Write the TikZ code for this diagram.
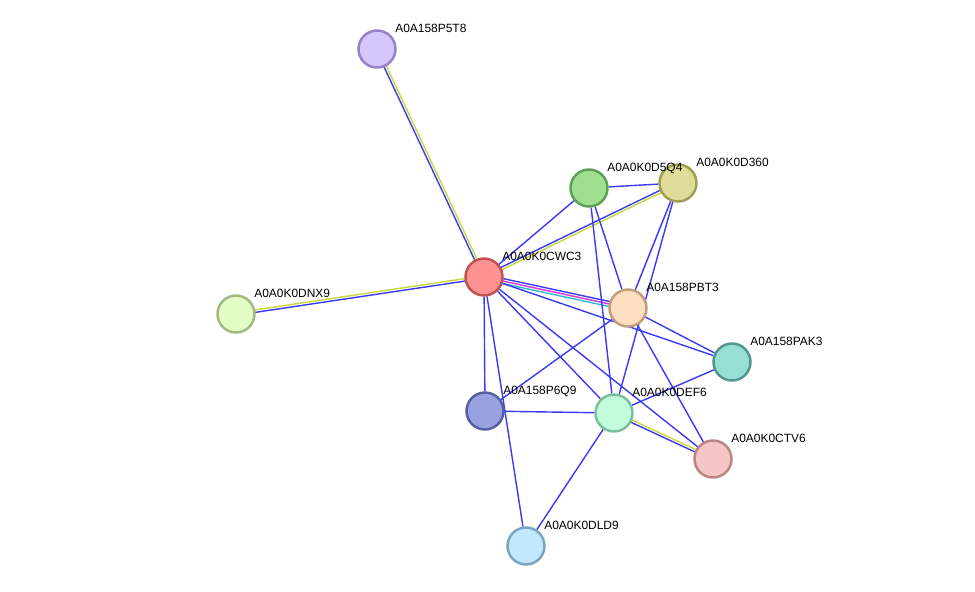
\documentclass[tikz,border=0pt]{standalone}
\usepackage{fontspec}
\setmainfont{Liberation Sans}
\usetikzlibrary{calc,backgrounds}

\definecolor{ppiblue}{RGB}{58,58,245}
\definecolor{ppiyellow}{RGB}{200,216,56}
\definecolor{ppimagenta}{RGB}{214,52,214}
\definecolor{ppicyan}{RGB}{46,188,210}

\definecolor{p5t8line}{RGB}{150,130,200}\definecolor{p5t8fill}{RGB}{214,198,252}
\definecolor{d5q4line}{RGB}{92,160,82}\definecolor{d5q4fill}{RGB}{160,222,146}
\definecolor{d360line}{RGB}{160,158,82}\definecolor{d360fill}{RGB}{224,220,154}
\definecolor{cwc3line}{RGB}{192,82,82}\definecolor{cwc3fill}{RGB}{252,146,146}
\definecolor{dnx9line}{RGB}{162,186,128}\definecolor{dnx9fill}{RGB}{226,254,196}
\definecolor{pbt3line}{RGB}{190,158,124}\definecolor{pbt3fill}{RGB}{254,222,192}
\definecolor{pak3line}{RGB}{82,150,142}\definecolor{pak3fill}{RGB}{152,224,214}
\definecolor{p6q9line}{RGB}{86,96,160}\definecolor{p6q9fill}{RGB}{152,162,224}
\definecolor{def6line}{RGB}{124,190,156}\definecolor{def6fill}{RGB}{194,252,218}
\definecolor{ctv6line}{RGB}{190,132,132}\definecolor{ctv6fill}{RGB}{244,198,198}
\definecolor{dld9line}{RGB}{124,164,190}\definecolor{dld9fill}{RGB}{194,232,254}

\tikzset{
  prot/.style={circle, draw=#1line, fill=#1fill, line width=1.4pt,
    minimum size=0.74cm, inner sep=0pt},
  lbl/.style={font=\fontsize{6.8}{8}\selectfont, inner sep=0pt,
    anchor=base west, label distance=0.09cm},
  ppi/.style={line width=0.8pt, draw=#1},
  ppi/.default=ppiblue
}

% edge drawn parallel to the centre line, shifted by #1
\newcommand{\ppilink}[4][0pt]{%
  \draw[ppi=#4] ($(#2)!#1!90:(#3)$) -- ($(#3)!#1!-90:(#2)$);}

\begin{document}
\begin{tikzpicture}[x=0.02cm, y=-0.02cm]
    \useasboundingbox (0,0) rectangle (975,592);

    \node (p5t8) at (377,49)  [prot=p5t8, label={[lbl]42:A0A158P5T8}] {};
    \node (d360) at (678,183) [prot=d360, label={[lbl]42:A0A0K0D360}] {};
    \node (d5q4) at (589,188) [prot=d5q4, label={[lbl]42:A0A0K0D5Q4}] {};
    \node (cwc3) at (484,277) [prot=cwc3, label={[lbl]42:A0A0K0CWC3}] {};
    \node (dnx9) at (236,314) [prot=dnx9, label={[lbl]42:A0A0K0DNX9}] {};
    \node (pbt3) at (628,308) [prot=pbt3, label={[lbl]42:A0A158PBT3}] {};
    \node (pak3) at (732,362) [prot=pak3, label={[lbl]42:A0A158PAK3}] {};
    \node (p6q9) at (485,411) [prot=p6q9, label={[lbl]42:A0A158P6Q9}] {};
    \node (def6) at (614,413) [prot=def6, label={[lbl]42:A0A0K0DEF6}] {};
    \node (ctv6) at (713,459) [prot=ctv6, label={[lbl]42:A0A0K0CTV6}] {};
    \node (dld9) at (526,546) [prot=dld9, label={[lbl]42:A0A0K0DLD9}] {};

    \begin{pgfonlayer}{background}
        % two or three lines where there are more kinds of evidence
        \ppilink[0.7pt]{cwc3}{p5t8}{ppiblue}
        \ppilink[-0.7pt]{cwc3}{p5t8}{ppiyellow}
        \ppilink[0.7pt]{cwc3}{dnx9}{ppiblue}
        \ppilink[-0.7pt]{cwc3}{dnx9}{ppiyellow}
        \ppilink[0.7pt]{cwc3}{d360}{ppiblue}
        \ppilink[-0.7pt]{cwc3}{d360}{ppiyellow}
        \ppilink[1.4pt]{cwc3}{pbt3}{ppiblue}
        \ppilink{cwc3}{pbt3}{ppimagenta}
        \ppilink[-1.4pt]{cwc3}{pbt3}{ppicyan}
        \ppilink[0.7pt]{def6}{ctv6}{ppiyellow}
        \ppilink[-0.7pt]{def6}{ctv6}{ppiblue}
        % single lines
        \draw[ppi] (cwc3) -- (d5q4);
        \draw[ppi] (cwc3) -- (pak3);
        \draw[ppi] (cwc3) -- (p6q9);
        \draw[ppi] (cwc3) -- (def6);
        \draw[ppi] (cwc3) -- (ctv6);
        \draw[ppi] (cwc3) -- (dld9);
        \draw[ppi] (d5q4) -- (d360);
        \draw[ppi] (d5q4) -- (pbt3);
        \draw[ppi] (d5q4) -- (def6);
        \draw[ppi] (d360) -- (pbt3);
        \draw[ppi] (d360) -- (def6);
        \draw[ppi] (pbt3) -- (pak3);
        \draw[ppi] (pbt3) -- (p6q9);
        \draw[ppi] (pbt3) -- (ctv6);
        \draw[ppi] (pak3) -- (def6);
        \draw[ppi] (def6) -- (p6q9);
        \draw[ppi] (def6) -- (dld9);
    \end{pgfonlayer}
\end{tikzpicture}
\end{document}
